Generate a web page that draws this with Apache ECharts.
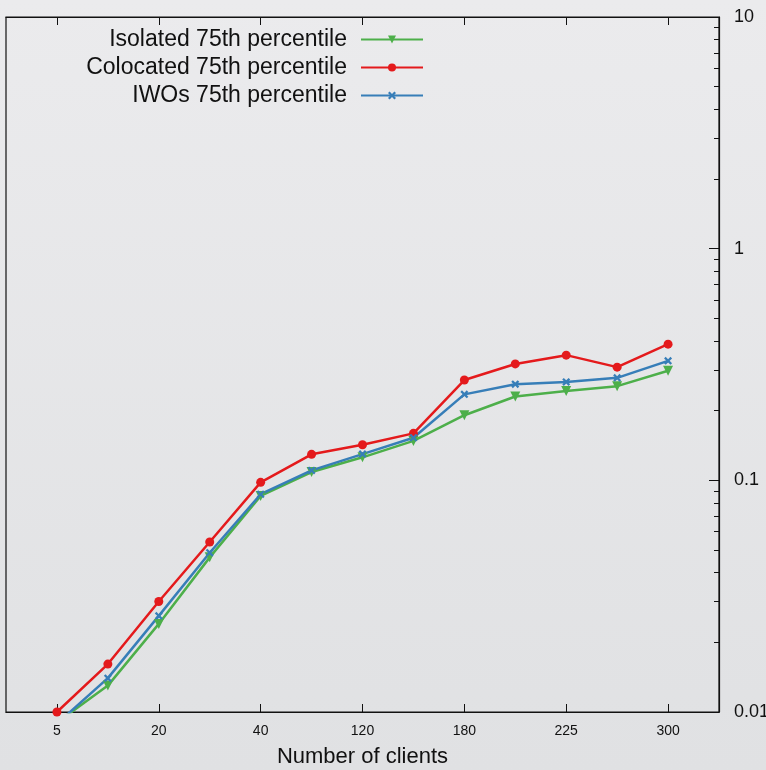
<!DOCTYPE html>
<html>
<head>
<meta charset="utf-8">
<script src="https://cdn.jsdelivr.net/npm/echarts@6/dist/echarts.min.js"></script>
<style>
  html, body { margin: 0; padding: 0; }
  #main { width: 766px; height: 770px; }
</style>
</head>
<body>
<div id="main"></div>
<script>
// categories (only every other one is labelled in the picture)
var clients = ['5', '10', '20', '30', '40', '80', '120', '150', '180', '200', '225', '250', '300'];
var isolated = [0.0090, 0.0130, 0.0240, 0.0465, 0.0856, 0.1086, 0.1257, 0.148, 0.191, 0.230, 0.243, 0.255, 0.297];
var colocated = [0.0100, 0.0161, 0.0300, 0.0542, 0.0980, 0.1295, 0.1425, 0.1595, 0.271, 0.318, 0.347, 0.308, 0.387];
var iwos = [0.0089, 0.0140, 0.0260, 0.0487, 0.0871, 0.1104, 0.1298, 0.1527, 0.235, 0.260, 0.266, 0.277, 0.328];
var yTicks = [0.01, 0.1, 1, 10];

// empty slot at each end so the points sit away from the frame
var axisCats = [''].concat(clients).concat(['']);
function pairs(vals) {
  return vals.map(function (v, i) { return [clients[i], v]; });
}
var oddOnly = function (index) { return index % 2 === 1; };

var chart = echarts.init(document.getElementById('main'));
var option = {
  backgroundColor: {
    type: 'linear', x: 0, y: 0, x2: 0, y2: 1,
    colorStops: [{ offset: 0, color: '#ebebed' }, { offset: 1, color: '#e0e1e3' }]
  },
  textStyle: { fontFamily: 'Liberation Sans, Arial, sans-serif' },
  animation: false,
  grid: {
    left: 6, right: 47, top: 17, bottom: 58,
    outerBoundsMode: 'none', containLabel: false,
    show: true, borderColor: '#111', borderWidth: 1.2
  },
  legend: {
    orient: 'vertical',
    right: 342,
    top: 28,
    padding: 0,
    align: 'right',
    itemWidth: 62,
    itemHeight: 10,
    itemGap: 5,
    textStyle: { fontSize: 23, color: '#111', padding: [0, 9, 0, 0] },
    data: ['Isolated 75th percentile', 'Colocated 75th percentile', 'IWOs 75th percentile']
  },
  xAxis: [
    {
      type: 'category',
      data: axisCats,
      boundaryGap: false,
      name: 'Number of clients',
      nameLocation: 'middle',
      nameGap: 34,
      nameTextStyle: { fontSize: 22, color: '#111' },
      axisLine: { lineStyle: { color: '#111', width: 1.2 } },
      axisTick: { inside: true, length: 8, interval: oddOnly, lineStyle: { color: '#111' } },
      axisLabel: { interval: oddOnly, fontSize: 14, color: '#111', margin: 12 },
      splitLine: { show: false }
    },
    {
      type: 'category',
      data: axisCats,
      boundaryGap: false,
      position: 'top',
      axisLine: { lineStyle: { color: '#111', width: 1.2 } },
      axisTick: { inside: true, length: 8, interval: oddOnly, lineStyle: { color: '#111' } },
      axisLabel: { show: false },
      splitLine: { show: false }
    }
  ],
  yAxis: {
    type: 'log',
    logBase: 10,
    min: yTicks[0],
    max: yTicks[yTicks.length - 1],
    position: 'right',
    axisLine: { show: true, lineStyle: { color: '#111', width: 1.2 } },
    axisTick: { show: true, inside: true, length: 10, lineStyle: { color: '#111' } },
    minorTick: { show: true, splitNumber: 9, length: 5, lineStyle: { color: '#111' } },
    axisLabel: { fontSize: 18, color: '#111', margin: 15 },
    splitLine: { show: false }
  },
  series: [
    {
      name: 'Isolated 75th percentile',
      type: 'line',
      data: pairs(isolated),
      color: '#4daf4a',
      lineStyle: { width: 2.5 },
      symbol: 'triangle',
      symbolRotate: 180,
      symbolSize: 10,
      clip: true
    },
    {
      name: 'Colocated 75th percentile',
      type: 'line',
      data: pairs(colocated),
      color: '#e41a1c',
      lineStyle: { width: 2.5 },
      symbol: 'circle',
      symbolSize: 9,
      clip: true
    },
    {
      name: 'IWOs 75th percentile',
      type: 'line',
      data: pairs(iwos),
      color: '#377eb8',
      lineStyle: { width: 2.5 },
      symbol: 'path://M0,2L2,0L5,3L8,0L10,2L7,5L10,8L8,10L5,7L2,10L0,8L3,5Z',
      symbolSize: 8,
      clip: true
    }
  ]
};
option && chart.setOption(option);
</script>
</body>
</html>
